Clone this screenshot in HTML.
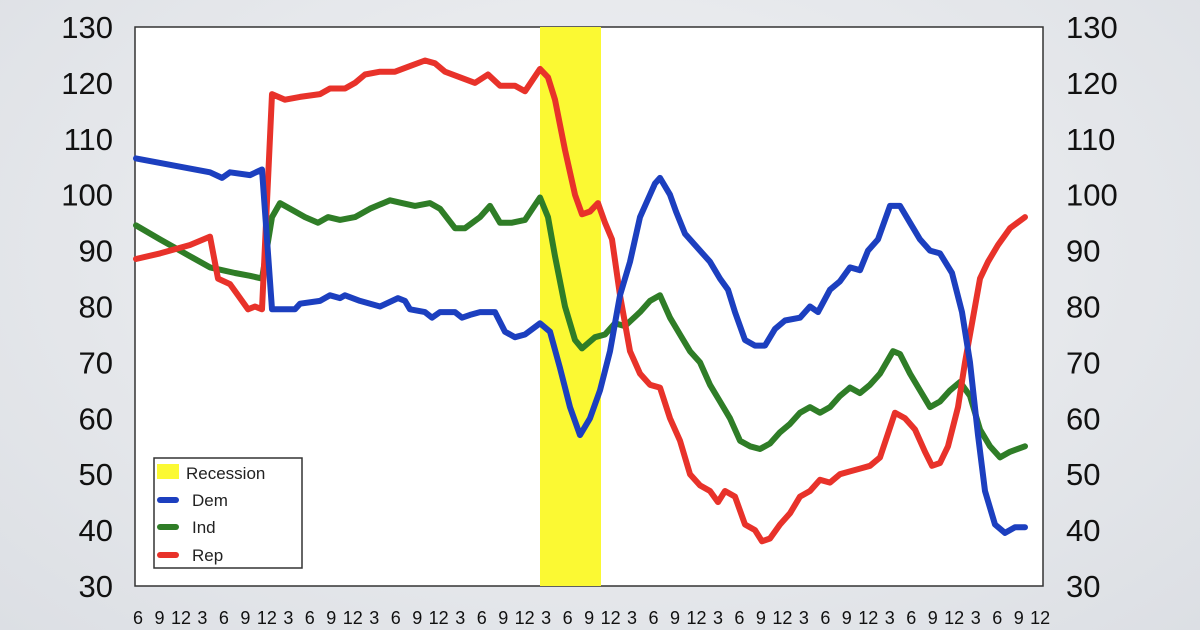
<!DOCTYPE html>
<html><head><style>
body{margin:0;width:1200px;height:630px;overflow:hidden;background:radial-gradient(ellipse at 50% 40%,#f2f3f5,#dcdfe4);font-family:"Liberation Sans",sans-serif}
</style></head><body>
<svg id="s" width="1200" height="630" xmlns="http://www.w3.org/2000/svg" style="position:absolute;left:0;top:0">
<rect x="135" y="27" width="908" height="559" fill="#fff" stroke="#333" stroke-width="1.5"/>
<rect x="540" y="27" width="61" height="559" fill="#fbf933"/>
<g id="g"></g>
<g id="lab" font-size="31" fill="#111"></g>
<g id="xl" font-size="18" fill="#111"></g>
<rect x="154" y="458" width="148" height="110" fill="#fff" stroke="#333" stroke-width="1.5"/>
<rect x="157" y="464" width="22" height="15" fill="#fbf933"/>
<line x1="160" y1="500" x2="176" y2="500" stroke="#1c3fbf" stroke-width="6" stroke-linecap="round"/>
<line x1="160" y1="527" x2="176" y2="527" stroke="#2f7d27" stroke-width="6" stroke-linecap="round"/>
<line x1="160" y1="555" x2="176" y2="555" stroke="#e8322a" stroke-width="6" stroke-linecap="round"/>
<g font-size="17" fill="#222"><text x="186" y="479">Recession</text><text x="192" y="506">Dem</text><text x="192" y="533">Ind</text><text x="192" y="561">Rep</text></g>
</svg>
<script>
function Y(v){return 586-(v-30)*5.59}
var dem=[136,106.5,210,104,222,103,230,104,250,103.5,262,104.5,272,79.5,295,79.5,300,80.5,320,81,330,82,340,81.5,345,82,360,81,380,80,398,81.5,405,81,410,79.5,425,79,432,78,440,79,455,79,462,78,470,78.5,480,79,495,79,505,75.5,515,74.5,525,75,540,77,550,75.5,560,69,570,62,580,57,590,60,600,65,610,72,620,82,630,88,640,96,650,100,655,102,660,103,670,100,676,97,685,93,695,91,710,88,720,85,728,83,735,79,745,74,755,73,765,73,775,76,785,77.5,800,78,810,80,818,79,830,83,840,84.5,850,87,860,86.5,868,90,878,92,890,98,900,98,910,95,920,92,930,90,940,89.5,952,86,962,79,970,70,978,57,985,47,995,41,1005,39.5,1015,40.5,1025,40.5];
var ind=[136,94.5,160,92,190,89,210,87,235,86,250,85.5,262,85,272,96,280,98.5,295,97,305,96,318,95,328,96,340,95.5,355,96,370,97.5,390,99,402,98.5,415,98,430,98.5,440,97.5,455,94,465,94,480,96,490,98,500,95,512,95,525,95.5,540,99.5,548,96,555,89,565,80,575,74,582,72.5,595,74.5,605,75,615,77,625,76.5,640,79,650,81,660,82,670,78,680,75,690,72,700,70,710,66,720,63,730,60,740,56,750,55,760,54.5,770,55.5,780,57.5,790,59,800,61,810,62,820,61,830,62,840,64,850,65.5,860,64.5,870,66,880,68,893,72,900,71.5,910,68,920,65,930,62,940,63,950,65,960,66.5,970,64,980,58,990,55,1000,53,1010,54,1025,55];
var rep=[136,88.5,160,89.5,190,91,210,92.5,218,85,230,84,238,82,248,79.5,255,80,262,79.5,272,118,285,117,300,117.5,320,118,330,119,345,119,355,120,365,121.5,380,122,395,122,410,123,425,124,435,123.5,445,122,460,121,475,120,488,121.5,500,119.5,515,119.5,525,118.5,540,122.5,548,121,555,117,565,108,575,100,582,96.5,590,97,598,98.5,605,95,612,92,620,82,630,72,640,68,650,66,660,65.5,670,60,680,56,690,50,700,48,710,47,718,45,725,47,735,46,745,41,755,40,762,38,770,38.5,780,41,790,43,800,46,810,47,820,49,830,48.5,840,50,850,50.5,860,51,870,51.5,880,53,895,61,905,60,915,58,925,54,932,51.5,940,52,948,55,958,62,965,70,972,77,980,85,988,88,998,91,1010,94,1025,96];
var NS="http://www.w3.org/2000/svg",g=document.getElementById('g');
function line(a,c){var p=[];for(var i=0;i<a.length;i+=2)p.push(a[i]+','+Y(a[i+1]).toFixed(1));var e=document.createElementNS(NS,'polyline');e.setAttribute('points',p.join(' '));e.setAttribute('fill','none');e.setAttribute('stroke',c);e.setAttribute('stroke-width','6');e.setAttribute('stroke-linejoin','round');e.setAttribute('stroke-linecap','round');g.appendChild(e);}
line(ind,'#2f7d27');line(rep,'#e8322a');line(dem,'#1c3fbf');
var lab=document.getElementById('lab');
for(var v=30;v<=130;v+=10){var y=Y(v)+11;
var t=document.createElementNS(NS,'text');t.setAttribute('x',113);t.setAttribute('y',y);t.setAttribute('text-anchor','end');t.textContent=v;lab.appendChild(t);
t=document.createElementNS(NS,'text');t.setAttribute('x',1066);t.setAttribute('y',y);t.textContent=v;lab.appendChild(t);}
var xl=document.getElementById('xl'),q=['6','9','12','3'];
for(var i=0;i<43;i++){var t=document.createElementNS(NS,'text');t.setAttribute('x',(138+i*21.48).toFixed(1));t.setAttribute('y',624);t.setAttribute('text-anchor','middle');t.textContent=q[i%4];xl.appendChild(t);}
</script>
</body></html>
